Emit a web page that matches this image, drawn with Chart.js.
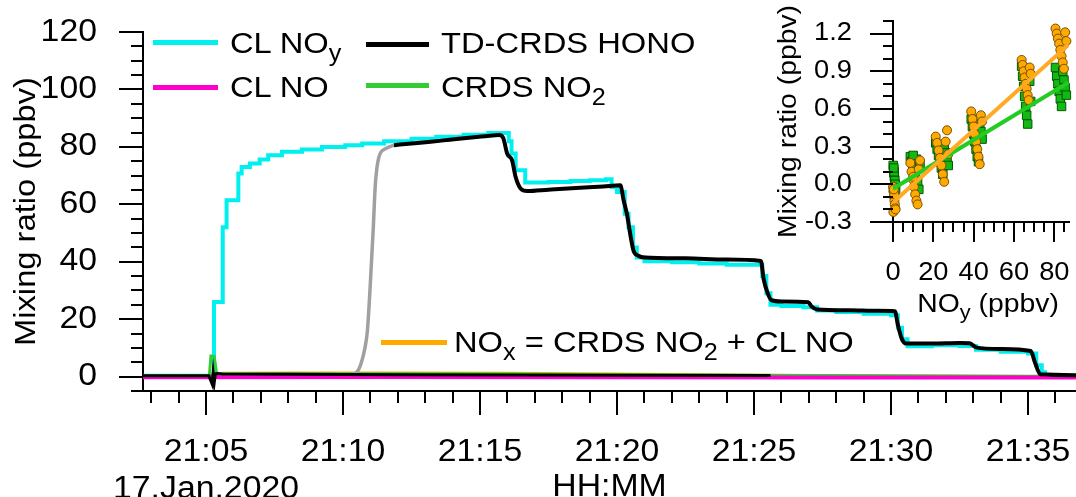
<!DOCTYPE html>
<html lang="en">
<head>
<meta charset="UTF-8">
<title>NOy / HONO calibration, 17 Jan 2020</title>
<script src="https://cdn.jsdelivr.net/npm/chart.js"></script>
<style>
  body { margin: 0; background: #fff; }
  #wrap { position: relative; width: 1076px; height: 497px; overflow: hidden;
          font-family: 'Liberation Sans', Arial, sans-serif; color: #000; }
  #mainChart { position: absolute; left: 0; top: 0; }
  #insetChart { position: absolute; left: 760px; top: 0; }
  .key { position: absolute; height: 5px; }
  .txt { position: absolute; font-size: 30px; line-height: 30px; white-space: nowrap;
         transform: scaleX(1.09); transform-origin: 0 0; }
  .txt sub { font-size: 0.77em; line-height: 0; vertical-align: -0.33em; }
  #insetTitle { left: 988px; top: 290px; font-size: 26px; line-height: 26px;
                transform: translateX(-50%) scaleX(1.09); transform-origin: 50% 0; }
</style>
</head>
<body>
<div id="wrap">
  <canvas id="mainChart" width="1076" height="497"></canvas>
  <canvas id="insetChart" width="316" height="330"></canvas>

  <div class="key" style="left:153px; top:40px; width:65px; background:#00F0F0;"></div>
  <div class="key" style="left:153px; top:85px; width:65px; background:#FF00CC;"></div>
  <div class="key" style="left:366px; top:42px; width:63px; background:#000;"></div>
  <div class="key" style="left:366px; top:83px; width:63px; background:#33CC33;"></div>
  <div class="key" style="left:381px; top:340px; width:66px; background:#FFAA00;"></div>

  <div class="txt" style="left:230px; top:27.6px;">CL NO<sub>y</sub></div>
  <div class="txt" style="left:230px; top:71.9px;">CL NO</div>
  <div class="txt" style="left:441px; top:27.6px;">TD-CRDS HONO</div>
  <div class="txt" style="left:441px; top:71.9px;">CRDS NO<sub>2</sub></div>
  <div class="txt" style="left:454px; top:326.6px;">NO<sub>x</sub> = CRDS NO<sub>2</sub> + CL NO</div>
  <div class="txt" id="insetTitle">NO<sub>y</sub> (ppbv)</div>
</div>

<script>
    // time axis: minutes after 21:00 on 17 Jan 2020
    const xTickMinutes = [5, 10, 15, 20, 25, 30, 35];
    const xTickLabels = ['21:05', '21:10', '21:15', '21:20', '21:25', '21:30', '21:35'];
    const dateLabel = '17.Jan.2020';

    // CL NOy (stepped, ppbv)
    const noyT = [2.7, 5.29, 5.61, 5.75, 6.18, 6.3, 6.6, 6.96, 7.27, 7.77,
                  8.5, 9.23, 10.08, 10.7, 11.5, 12.5, 13.4, 14.4, 15.3, 16.05,
                  16.15, 16.3, 16.65, 17.5, 18.3, 19.0, 19.6, 19.8, 20.0, 20.28,
                  20.42, 20.58, 20.72, 21.0, 22.0, 23.0, 24.0, 25.3, 25.45, 25.6,
                  26.0, 26.8, 27.3, 28.0, 29.0, 30.0, 30.25, 30.4, 30.6, 31.5,
                  32.5, 33.1, 34.0, 35.0, 35.3, 35.5, 35.62, 36.75];
    const noyV = [0.3, 26, 52, 61.4, 70.7, 73, 74.2, 75.6, 77.1, 78.3,
                  79.1, 80, 80.6, 81.2, 82, 82.8, 83.5, 84.2, 84.8, 82,
                  77.7, 71.9, 67.6, 67.8, 68.1, 68.4, 68.7, 66, 64.3, 56.7,
                  52, 45, 41.5, 40.2, 39.8, 39.4, 39, 35, 29, 25,
                  24.6, 24.2, 23, 22.5, 21.9, 21.4, 17, 13, 10.6, 10.9,
                  10.7, 9.4, 8.7, 8.1, 4, 1.5, 0.3, 0.3];

    // TD-CRDS HONO (ppbv)
    const honoT = [11.86, 12.5, 13.2, 13.9, 14.6, 15.2, 15.7, 15.85, 15.99, 16.17,
                   16.3, 16.48, 16.72, 17.5, 18.5, 19.5, 20.12, 20.24, 20.36, 20.48,
                   20.6, 20.78, 21.0, 22.5, 24.0, 25.25, 25.35, 25.5, 25.64, 26.0,
                   26.98, 27.1, 27.3, 28.5, 29.5, 30.14, 30.25, 30.38, 30.55, 31.5,
                   32.5, 32.87, 33.1, 34.0, 35.1, 35.25, 35.45, 36.75];
    const honoV = [80.6, 81.2, 81.8, 82.5, 83.2, 83.7, 84.1, 83, 77.7, 75.3,
                   69.5, 65.5, 64.6, 65.1, 65.7, 66.2, 66.6, 61.4, 56.7, 49.7,
                   43.9, 42.1, 41.5, 41.2, 40.8, 40.3, 34, 29, 26.6, 26.2,
                   25.9, 24.4, 23.4, 23.1, 22.9, 22.8, 18, 13.5, 11.5, 11.5,
                   11.7, 11.6, 10.2, 9.6, 8.9, 5, 0.8, 0.5];

    // HONO while the converter warms up (grey)
    const warmT = [10.3, 10.5, 10.65, 10.8, 10.89, 11.0, 11.1, 11.18, 11.31, 11.56, 11.86];
    const warmV = [0.8, 1.5, 4.3, 10, 16, 33, 51, 67, 76.5, 79.4, 80.6];

    // HONO channel near zero before the step (black)
    const zeroT = [2.7, 5.1, 5.22, 5.26, 5.3, 5.34, 5.4, 5.6, 8, 12, 16, 20, 25.6];
    const zeroV = [0.3, 0.3, -2.5, 1.5, -2, 1, 1.1, 0.9, 0.8, 0.7, 0.6, 0.5, 0.4];

    // CRDS NO2
    const no2T = [2.7, 5.12, 5.18, 5.3, 5.38, 5.45, 8, 12, 16, 20, 25, 30, 35, 36.75];
    const no2V = [0.2, 0.3, 7.2, 7.0, 1.5, 1.1, 1.0, 1.0, 0.9, 0.7, 0.45, 0.3, 0.15, 0.1];

    // NOx = CRDS NO2 + CL NO
    const noxT = [2.7, 5.3, 5.6, 8, 12, 16, 20, 25, 30, 35, 36.75];
    const noxV = [0.1, 0.2, 1.2, 1.25, 1.3, 1.2, 0.95, 0.5, 0.25, 0.05, 0];

    // CL NO
    const noT = [2.7, 12, 20, 28, 36.75];
    const noV = [-0.2, -0.1, -0.2, -0.3, -0.3];

    // inset: NO2 and NOx against NOy
    const scatNoy = [0.1, 0.3, 0.5, 0.7, 0.9, 1.1, 0.2, 0.6, 1.3, 0.4,
                     8.6, 9.2, 9.8, 10.4, 11.0, 11.6, 12.2, 12.8, 13.4, 10.0,
                     21.2, 21.9, 22.6, 23.3, 24.0, 24.7, 25.4, 26.1, 26.8, 27.4,
                     38.8, 39.4, 40.0, 40.6, 41.2, 41.8, 42.4, 43.0, 43.6, 44.2,
                     63.8, 64.3, 64.8, 65.3, 65.8, 66.3, 66.8, 67.3, 67.8, 68.3,
                     80.6, 81.2, 81.8, 82.4, 83.0, 83.6, 84.2, 84.8, 85.4, 86.0];
    const scatNo2 = [0.15, 0.12, 0.09, 0.06, 0.03, 0.00, -0.03, 0.10, -0.05, 0.13,
                     0.22, 0.18, 0.14, 0.10, 0.06, 0.20, 0.02, -0.04, 0.16, 0.23,
                     0.33, 0.28, 0.23, 0.18, 0.13, 0.08, 0.30, 0.25, 0.20, 0.15,
                     0.52, 0.46, 0.40, 0.34, 0.28, 0.22, 0.18, 0.48, 0.42, 0.36,
                     0.94, 0.86, 0.78, 0.70, 0.62, 0.55, 0.48, 0.90, 0.82, 0.66,
                     0.93, 0.86, 0.80, 0.74, 0.68, 0.62, 0.90, 0.83, 0.77, 0.71];
    const scatNox = [-0.02, -0.06, -0.10, -0.13, -0.16, -0.19, -0.22, -0.08, -0.20, -0.04,
                     0.17, 0.10, 0.04, -0.02, -0.08, -0.13, -0.16, 0.12, 0.19, 0.06,
                     0.38, 0.33, 0.27, 0.21, 0.15, 0.08, 0.02, 0.34, 0.43, 0.24,
                     0.58, 0.52, 0.46, 0.40, 0.34, 0.28, 0.22, 0.16, 0.55, 0.50,
                     0.99, 0.95, 0.90, 0.85, 0.80, 0.76, 0.71, 0.67, 0.93, 0.88,
                     1.24, 1.20, 1.16, 1.12, 1.07, 1.02, 0.97, 0.92, 1.21, 1.14];

    // linear fits in the inset
    const fitNoy = [0, 87];
    const fitNox = [-0.145, 1.11];
    const fitNo2 = [-0.035, 0.81];

    const STRETCH = 1.09; // lettering in the original is a bit wider than Arial

    Chart.defaults.font.family = "'Liberation Sans', Arial, sans-serif";
    Chart.defaults.color = '#000';

    function pts(xs, ys) {
        return xs.map((x, i) => ({ x: x, y: ys[i] }));
    }

    function isMultiple(v, step) {
        const r = v / step;
        return Math.abs(r - Math.round(r)) < 1e-6;
    }

    // canvas text drawn slightly wider, around its anchor point
    function wideText(ctx) {
        const fill = ctx.fillText.bind(ctx);
        ctx.fillText = function (text, x, y, maxWidth) {
            this.save();
            this.translate(x, y);
            this.scale(STRETCH, 1);
            if (maxWidth === undefined) fill(text, 0, 0);
            else fill(text, 0, 0, maxWidth / STRETCH);
            this.restore();
        };
        return ctx;
    }

    // fixed axis box, and no extra room asked for the edge labels
    function fixBox(size) {
        return (s) => {
            if (s.isHorizontal()) s.height = size;
            else s.width = size;
            s.paddingTop = 0;
            s.paddingBottom = 0;
            s.paddingLeft = 0;
            s.paddingRight = 0;
        };
    }

    // outward ticks, long on labelled values, short in between
    function tickMarks(spec) {
        return {
            id: 'tickMarks',
            afterDraw(chart) {
                const ctx = chart.ctx;
                ctx.save();
                ctx.strokeStyle = '#000';
                ctx.lineWidth = 2;
                ctx.beginPath();
                Object.keys(spec).forEach((id) => {
                    const s = chart.scales[id];
                    const o = spec[id];
                    s.ticks.forEach((t) => {
                        const len = isMultiple(t.value, o.major) ? o.majorLen : o.minorLen;
                        const p = Math.round(s.getPixelForValue(t.value));
                        if (s.isHorizontal()) {
                            ctx.moveTo(p, s.top);
                            ctx.lineTo(p, s.top + len);
                        } else {
                            ctx.moveTo(s.right - len, p);
                            ctx.lineTo(s.right, p);
                        }
                    });
                });
                ctx.stroke();
                ctx.restore();
            }
        };
    }

    function line(data, color, width, order, extra) {
        return Object.assign({
            data: data,
            borderColor: color,
            backgroundColor: color,
            borderWidth: width,
            pointRadius: 0,
            fill: false,
            order: order
        }, extra || {});
    }

    new Chart(wideText(document.getElementById('mainChart').getContext('2d')), {
        type: 'line',
        data: {
            datasets: [
                line(pts(honoT, honoV), '#000000', 4, 1, { cubicInterpolationMode: 'monotone' }),
                line(pts(zeroT, zeroV), '#000000', 3, 2),
                line(pts(warmT, warmV), '#A0A0A0', 3.5, 3, { cubicInterpolationMode: 'monotone' }),
                line(pts(noT, noV), '#FF00CC', 4, 4),
                line(pts(no2T, no2V), '#33CC33', 3, 5),
                line(pts(noxT, noxV), '#FFAA00', 3, 6),
                line(pts(noyT, noyV), '#00F0F0', 4, 7, { stepped: true })
            ]
        },
        plugins: [tickMarks({
            x: { major: 5, majorLen: 24, minorLen: 12 },
            y: { major: 20, majorLen: 24, minorLen: 12 }
        })],
        options: {
            responsive: false,
            animation: false,
            events: [],
            layout: { padding: { top: 32, right: 0, bottom: 0, left: 0 } },
            plugins: { legend: { display: false }, tooltip: { enabled: false } },
            scales: {
                x: {
                    type: 'linear',
                    min: 2.7,
                    max: 36.75,
                    grid: { display: false },
                    border: { display: true, color: '#000', width: 2 },
                    ticks: {
                        stepSize: 1,
                        includeBounds: false,
                        autoSkip: false,
                        maxRotation: 0,
                        padding: 35,
                        font: { size: 31, lineHeight: 1.19 },
                        callback: (v) => {
                            const i = xTickMinutes.indexOf(v);
                            if (i < 0) return '';
                            return v === xTickMinutes[0] ? [xTickLabels[i], dateLabel] : xTickLabels[i];
                        }
                    },
                    title: { display: true, text: 'HH:MM', font: { size: 31, lineHeight: 0.64 }, padding: 0 },
                    afterFit: fixBox(106)
                },
                y: {
                    min: -5,
                    max: 120,
                    grid: { display: false },
                    border: { display: true, color: '#000', width: 2 },
                    ticks: {
                        stepSize: 5,
                        autoSkip: false,
                        padding: 38,
                        font: { size: 31 },
                        callback: (v) => (isMultiple(v, 20) ? String(v) : '')
                    },
                    title: { display: true, text: 'Mixing ratio (ppbv)', font: { size: 30, lineHeight: 1.2 }, padding: { top: 9, bottom: 0 } },
                    afterFit: fixBox(143)
                }
            }
        }
    });

    new Chart(wideText(document.getElementById('insetChart').getContext('2d')), {
        type: 'line',
        data: {
            datasets: [
                line(pts(fitNoy, fitNox), '#FFAA22', 4, 1),
                line(pts(fitNoy, fitNo2), '#22CC22', 4, 2),
                line(pts(scatNoy, scatNox), '#FFAA00', 0, 3, {
                    showLine: false, pointStyle: 'circle', pointRadius: 4.5,
                    pointBackgroundColor: '#FFAA00', pointBorderColor: '#7A4E00', pointBorderWidth: 1, clip: false
                }),
                line(pts(scatNoy, scatNo2), '#13B813', 0, 4, {
                    showLine: false, pointStyle: 'rect', pointRadius: 6,
                    pointBackgroundColor: '#13B813', pointBorderColor: '#005A00', pointBorderWidth: 1, clip: false
                })
            ]
        },
        plugins: [tickMarks({
            x: { major: 20, majorLen: 20, minorLen: 10 },
            y: { major: 0.3, majorLen: 23, minorLen: 10 }
        })],
        options: {
            responsive: false,
            animation: false,
            events: [],
            layout: { padding: { top: 21, right: 0, bottom: 0, left: 0 } },
            plugins: { legend: { display: false }, tooltip: { enabled: false } },
            scales: {
                x: {
                    type: 'linear',
                    min: 0,
                    max: 87.3,
                    grid: { display: false },
                    border: { display: true, color: '#000', width: 2 },
                    ticks: {
                        stepSize: 5,
                        includeBounds: false,
                        autoSkip: false,
                        maxRotation: 0,
                        padding: 28,
                        font: { size: 25 },
                        callback: (v) => (isMultiple(v, 20) ? String(v) : '')
                    },
                    afterFit: fixBox(108)
                },
                y: {
                    min: -0.3,
                    max: 1.3,
                    grid: { display: false },
                    border: { display: true, color: '#000', width: 2 },
                    ticks: {
                        stepSize: 0.1,
                        autoSkip: false,
                        padding: 33,
                        font: { size: 25 },
                        callback: (v) => (isMultiple(v, 0.3) ? v.toFixed(1) : '')
                    },
                    title: { display: true, text: 'Mixing ratio (ppbv)', font: { size: 26, lineHeight: 1.2 }, padding: { top: 13, bottom: 0 } },
                    afterFit: fixBox(133)
                }
            }
        }
    });
</script>
</body>
</html>
